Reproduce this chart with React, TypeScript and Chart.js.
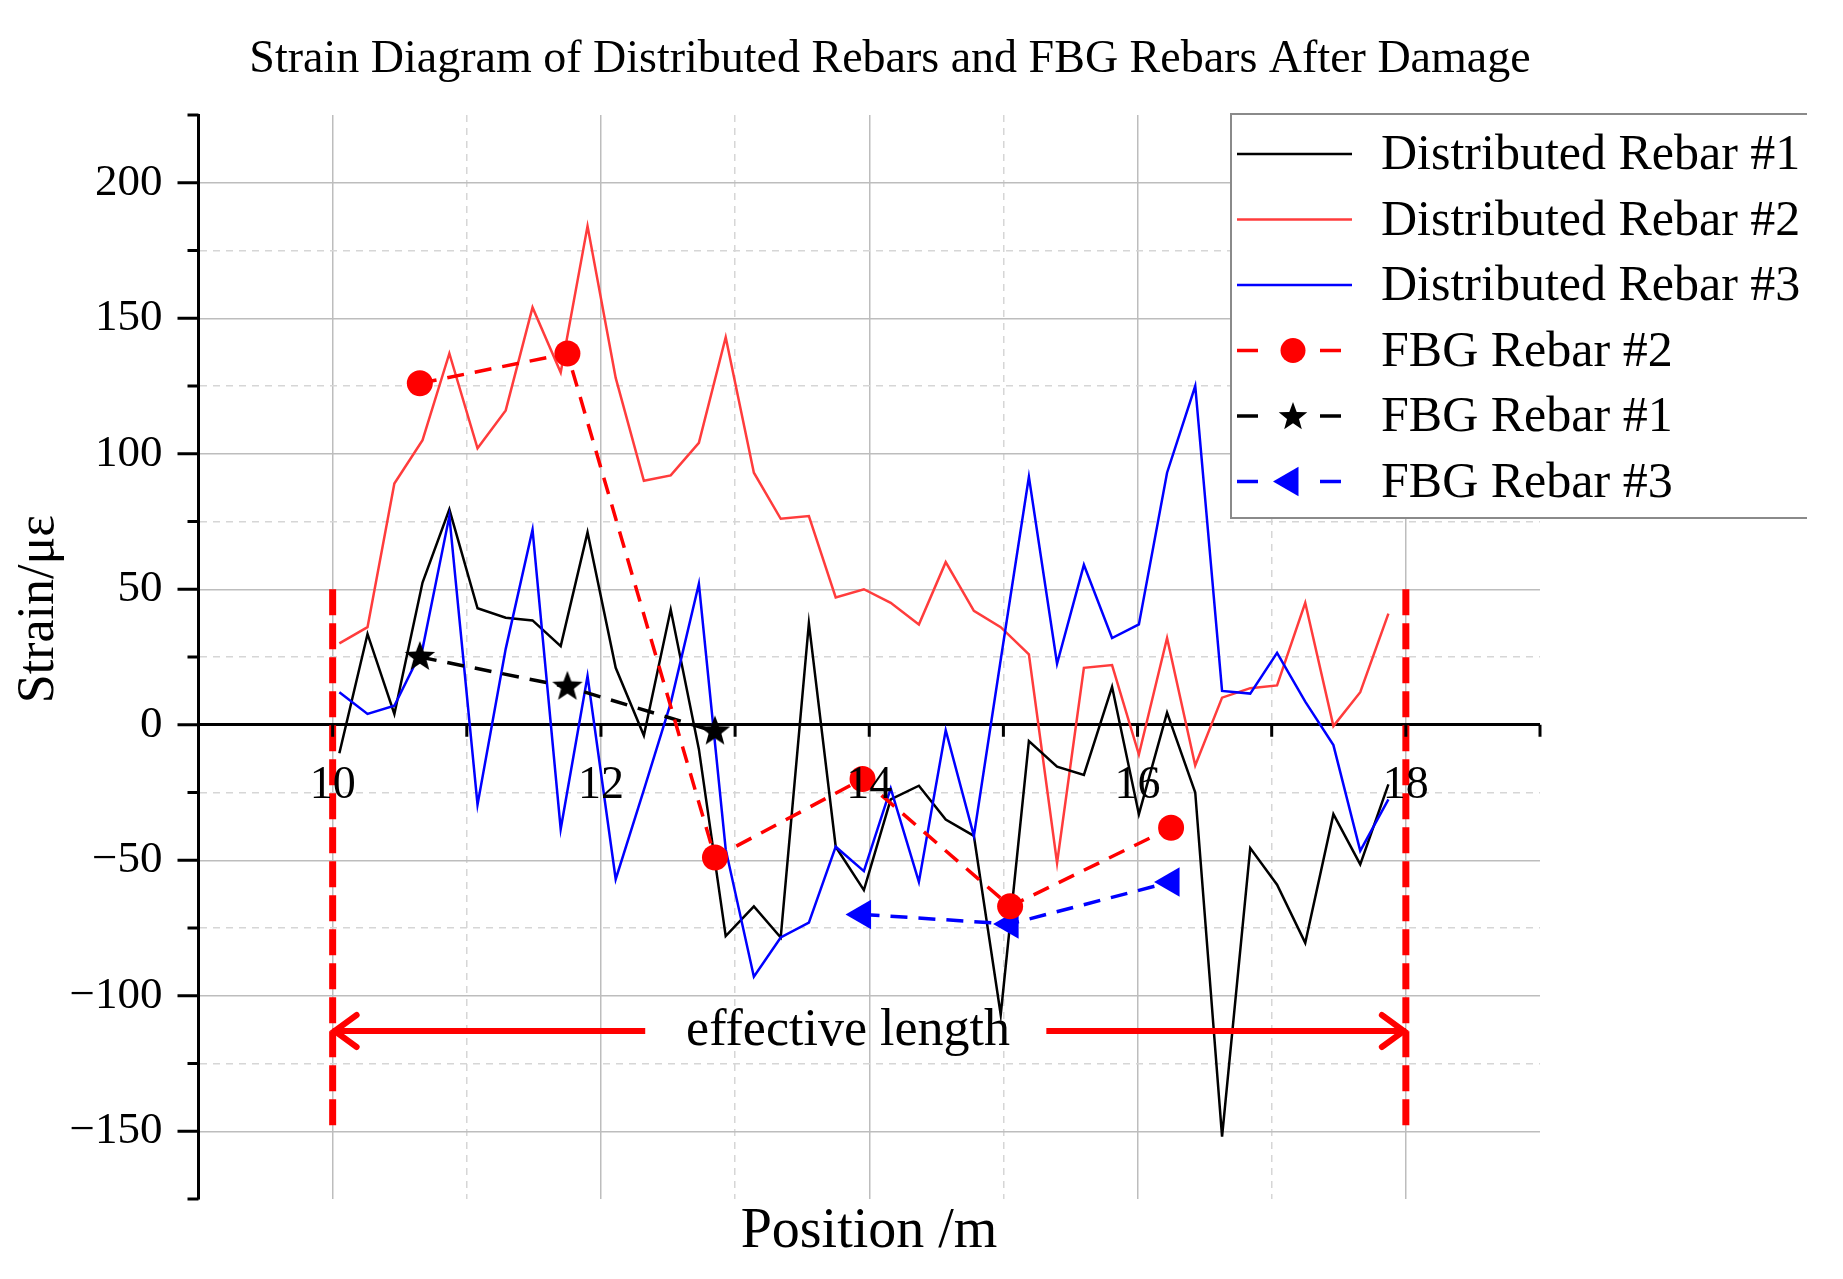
import { useEffect, useRef } from 'react';
import { Chart, registerables } from 'chart.js';

Chart.register(...registerables);

// distributed sensing positions (m)
const positions = [
  10.05, 10.26, 10.46, 10.67, 10.87, 11.08, 11.29, 11.49, 11.7, 11.9,
  12.11, 12.32, 12.52, 12.73, 12.93, 13.14, 13.34, 13.55, 13.75, 13.96,
  14.16, 14.37, 14.57, 14.78, 14.98, 15.19, 15.4, 15.6, 15.81, 16.01,
  16.22, 16.43, 16.63, 16.84, 17.04, 17.25, 17.46, 17.66, 17.87,
];

const rebar1 = [
  -10.5, 33.5, 4, 52.5, 79.5, 43, 39.5, 38.5, 29, 71,
  21, -4, 42.5, -9, -78, -67, -78.5, 37.5, -45, -61,
  -27.5, -22.5, -35, -41, -107, -6, -15.5, -18.5, 14, -33,
  4.5, -25, -152, -45.5, -59, -80.5, -33, -51.5, -22,
];

const rebar2 = [
  30, 36, 89, 105, 137, 102, 116, 154, 130, 184,
  128, 90, 92, 104, 143, 93, 76, 77, 47, 50,
  45, 37, 60, 42, 36, 26, -51, 21, 22, -11,
  32, -15, 10, 13.5, 14.5, 45, -0.5, 12, 41,
];

const rebar3 = [
  12, 4, 7, 28, 77, -29.5, 28, 72, -38.5, 18,
  -57, -24, 8, 52, -46, -93, -78.5, -73, -45, -54,
  -23.5, -58, -2, -41, 24, 91.5, 22.5, 59, 32, 37,
  93, 125, 12.5, 11.5, 26.5, 8.5, -7.5, -46.5, -27.5,
];

// FBG sensor readings
const fbg2Positions = [10.65, 11.75, 12.85, 13.95, 15.05, 16.25];
const fbg2 = [126, 137, -49, -20, -67, -38];
const fbg1Positions = [10.65, 11.75, 12.85];
const fbg1 = [25, 14, -2.5];
const fbg3Positions = [13.95, 15.05, 16.25];
const fbg3 = [-70, -73.5, -58];

// effective length annotation
const effectiveEnds = [10, 18];
const boundaryRange = [50, -150];
const arrowLevel = -113;
const arrowLeft = [10, 12.33];
const arrowRight = [15.32, 18];

const xTickLabels = [10, 12, 14, 16, 18];

const SERIF = "'Liberation Serif', 'Times New Roman', serif";
const RED_LINE = '#ff3c3c';

function drawStar(g: CanvasRenderingContext2D, cx: number, cy: number, outer: number, color: string) {
  const inner = outer * 0.42;
  g.beginPath();
  for (let i = 0; i < 10; i++) {
    const r = i % 2 === 0 ? outer : inner;
    const a = -Math.PI / 2 + (i * Math.PI) / 5;
    const px = cx + r * Math.cos(a);
    const py = cy + r * Math.sin(a);
    if (i === 0) g.moveTo(px, py);
    else g.lineTo(px, py);
  }
  g.closePath();
  g.fillStyle = color;
  g.fill();
}

function makeStar(outer: number, color: string) {
  const size = Math.ceil(outer * 2 + 4);
  const c = document.createElement('canvas');
  c.width = size;
  c.height = size;
  const g = c.getContext('2d');
  if (g) drawStar(g, size / 2, size / 2, outer, color);
  return c;
}

function drawTriangleLeft(g: CanvasRenderingContext2D, cx: number, cy: number, r: number, color: string) {
  g.beginPath();
  g.moveTo(cx - r, cy);
  g.lineTo(cx + r * 0.5, cy - r * 0.866);
  g.lineTo(cx + r * 0.5, cy + r * 0.866);
  g.closePath();
  g.fillStyle = color;
  g.fill();
}

const legendItems = [
  { label: 'Distributed Rebar #1', color: '#000000', marker: 'none' },
  { label: 'Distributed Rebar #2', color: RED_LINE, marker: 'none' },
  { label: 'Distributed Rebar #3', color: '#0000ff', marker: 'none' },
  { label: 'FBG Rebar #2', color: '#ff0000', marker: 'circle' },
  { label: 'FBG Rebar #1', color: '#000000', marker: 'star' },
  { label: 'FBG Rebar #3', color: '#0000ff', marker: 'triangle' },
];

const decorations = {
  id: 'decorations',
  afterDatasetsDraw(chart: any) {
    const { ctx, chartArea } = chart;
    const x = chart.scales.x;
    const y = chart.scales.y;
    const y0 = y.getPixelForValue(0);
    ctx.save();

    // tick marks along the zero line
    ctx.strokeStyle = '#000';
    ctx.lineWidth = 3;
    x.ticks.forEach((t: any) => {
      if (t.value < 10) return;
      const px = x.getPixelForValue(t.value);
      ctx.beginPath();
      ctx.moveTo(px, y0);
      ctx.lineTo(px, y0 + 12);
      ctx.stroke();
    });

    // y axis ticks, long at labelled values
    y.ticks.forEach((t: any) => {
      const py = y.getPixelForValue(t.value);
      const len = t.value % 50 === 0 ? 21 : 11;
      ctx.beginPath();
      ctx.moveTo(chartArea.left - len, py);
      ctx.lineTo(chartArea.left, py);
      ctx.stroke();
    });

    // x labels sitting on the zero line
    ctx.fillStyle = '#000';
    ctx.font = `46px ${SERIF}`;
    ctx.textAlign = 'center';
    ctx.textBaseline = 'middle';
    xTickLabels.forEach((v) => {
      ctx.fillText(String(v), x.getPixelForValue(v), y0 + 61);
    });

    // arrow heads
    const ay = y.getPixelForValue(arrowLevel);
    ctx.strokeStyle = '#ff0000';
    ctx.lineWidth = 6;
    ctx.lineCap = 'round';
    const lx = x.getPixelForValue(arrowLeft[0]);
    const rx = x.getPixelForValue(arrowRight[1]);
    ctx.beginPath();
    ctx.moveTo(lx + 24, ay - 16);
    ctx.lineTo(lx + 2, ay);
    ctx.lineTo(lx + 24, ay + 16);
    ctx.moveTo(rx - 24, ay - 16);
    ctx.lineTo(rx - 2, ay);
    ctx.lineTo(rx - 24, ay + 16);
    ctx.stroke();

    ctx.font = `52px ${SERIF}`;
    ctx.fillText('effective length', 848, ay);
    ctx.restore();
  },
  afterDraw(chart: any) {
    const { ctx } = chart;
    ctx.save();
    ctx.fillStyle = '#000';
    ctx.textAlign = 'center';
    ctx.textBaseline = 'middle';

    ctx.font = `46px ${SERIF}`;
    ctx.fillText('Strain Diagram of Distributed Rebars and FBG Rebars After Damage', 890, 60);

    ctx.font = `56px ${SERIF}`;
    ctx.fillText('Position /m', 869, 1232);

    ctx.save();
    ctx.translate(39, 609);
    ctx.rotate(-Math.PI / 2);
    ctx.font = `52px ${SERIF}`;
    ctx.fillText('Strain/με', 0, 0);
    ctx.restore();

    // legend box (right edge cut off like the source figure)
    const bx = 1231;
    const by = 114;
    const bw = 576;
    const bh = 404;
    ctx.fillStyle = '#fff';
    ctx.fillRect(bx, by, bw, bh);
    ctx.strokeStyle = '#8a8a8a';
    ctx.lineWidth = 2;
    ctx.beginPath();
    ctx.moveTo(bx + bw, by);
    ctx.lineTo(bx, by);
    ctx.lineTo(bx, by + bh);
    ctx.lineTo(bx + bw, by + bh);
    ctx.stroke();

    ctx.textAlign = 'left';
    ctx.font = `50px ${SERIF}`;
    legendItems.forEach((item, i) => {
      const ry = 154 + i * 65.5;
      ctx.strokeStyle = item.color;
      if (item.marker === 'none') {
        ctx.lineWidth = 2.5;
        ctx.beginPath();
        ctx.moveTo(1237, ry);
        ctx.lineTo(1352, ry);
        ctx.stroke();
      } else {
        ctx.lineWidth = 3.5;
        ctx.beginPath();
        ctx.moveTo(1237, ry);
        ctx.lineTo(1258, ry);
        ctx.moveTo(1320, ry);
        ctx.lineTo(1341, ry);
        ctx.stroke();
        if (item.marker === 'circle') {
          ctx.beginPath();
          ctx.arc(1293, ry, 12.5, 0, Math.PI * 2);
          ctx.fillStyle = item.color;
          ctx.fill();
        } else if (item.marker === 'star') {
          drawStar(ctx, 1293, ry + 1, 15, item.color);
        } else {
          drawTriangleLeft(ctx, 1290, ry, 17, item.color);
        }
      }
      ctx.fillStyle = '#000';
      ctx.fillText(item.label, 1381, ry + 2);
    });
    ctx.restore();
  },
};

export default function App() {
  const chartRef = useRef<HTMLCanvasElement>(null);
  const chartInstance = useRef<Chart | null>(null);

  useEffect(() => {
    if (!chartRef.current) return;
    if (chartInstance.current) chartInstance.current.destroy();

    const pts = (xs: number[], ys: number[]) => xs.map((v, i) => ({ x: v, y: ys[i] }));
    const starImg = makeStar(16, '#000000');

    const solid = (label: string, ys: number[], color: string, order: number) => ({
      label,
      data: pts(positions, ys),
      borderColor: color,
      backgroundColor: color,
      borderWidth: 2.5,
      pointRadius: 0,
      tension: 0,
      order,
    });

    const datasets: any[] = [
      // effective length boundaries and arrows
      ...effectiveEnds.map((e) => ({
        label: 'boundary',
        data: boundaryRange.map((v) => ({ x: e, y: v })),
        borderColor: '#ff0000',
        borderWidth: 7,
        borderDash: [26, 8],
        pointRadius: 0,
        order: 0,
      })),
      ...[arrowLeft, arrowRight].map((seg) => ({
        label: 'arrow',
        data: seg.map((v) => ({ x: v, y: arrowLevel })),
        borderColor: '#ff0000',
        borderWidth: 6,
        pointRadius: 0,
        order: 0,
      })),
      {
        label: 'FBG Rebar #2',
        data: pts(fbg2Positions, fbg2),
        borderColor: '#ff0000',
        backgroundColor: '#ff0000',
        borderWidth: 3.5,
        borderDash: [17, 11],
        pointStyle: 'circle',
        pointRadius: 13,
        pointBorderWidth: 0,
        tension: 0,
        order: 1,
      },
      {
        label: 'FBG Rebar #1',
        data: pts(fbg1Positions, fbg1),
        borderColor: '#000000',
        backgroundColor: '#000000',
        borderWidth: 3.5,
        borderDash: [17, 11],
        pointStyle: starImg,
        pointRadius: 16,
        tension: 0,
        order: 2,
      },
      {
        label: 'FBG Rebar #3',
        data: pts(fbg3Positions, fbg3),
        borderColor: '#0000ff',
        backgroundColor: '#0000ff',
        borderWidth: 3.5,
        borderDash: [17, 11],
        pointStyle: 'triangle',
        pointRotation: -90,
        pointRadius: 17,
        pointBorderWidth: 0,
        tension: 0,
        order: 3,
      },
      solid('Distributed Rebar #3', rebar3, '#0000ff', 4),
      solid('Distributed Rebar #1', rebar1, '#000000', 5),
      solid('Distributed Rebar #2', rebar2, RED_LINE, 6),
    ];

    chartInstance.current = new Chart(chartRef.current, {
      type: 'line',
      data: { datasets },
      options: {
        animation: false,
        responsive: false,
        devicePixelRatio: 1,
        events: [],
        layout: { padding: { top: 115, right: 303, bottom: 80, left: 0 } },
        plugins: {
          legend: { display: false },
          title: { display: false },
          tooltip: { enabled: false },
        },
        scales: {
          x: {
            type: 'linear',
            min: 9,
            max: 19,
            ticks: { stepSize: 1, display: false },
            grid: {
              drawTicks: false,
              lineWidth: 1.5,
              color: (c: any) => {
                const v = c.tick ? c.tick.value : 0;
                if (v <= 9 || v >= 19) return 'rgba(0,0,0,0)';
                return v % 2 === 0 ? '#bdbdbd' : '#d6d6d6';
              },
            },
            border: {
              display: false,
              dash: (c: any) => (c.tick && c.tick.value % 2 !== 0 ? [7, 6] : []),
            },
            afterFit: (s: any) => {
              s.height = 0;
            },
          },
          y: {
            type: 'linear',
            min: -175,
            max: 225,
            ticks: {
              stepSize: 25,
              autoSkip: false,
              padding: 36,
              color: '#000',
              font: { family: SERIF, size: 45 },
              callback: (v: any) => {
                const n = Number(v);
                if (n % 50 !== 0) return '';
                return n < 0 ? `\u2212${Math.abs(n)}` : String(n);
              },
            },
            grid: {
              drawTicks: false,
              lineWidth: (c: any) => (c.tick && c.tick.value === 0 ? 3 : 1.5),
              color: (c: any) => {
                const v = c.tick ? c.tick.value : 1;
                if (v === 0) return '#000000';
                if (v <= -175 || v >= 225) return 'rgba(0,0,0,0)';
                return v % 50 === 0 ? '#bdbdbd' : '#d6d6d6';
              },
            },
            border: {
              display: true,
              color: '#000',
              width: 3,
              dash: (c: any) => (c.tick && c.tick.value % 50 !== 0 ? [7, 6] : []),
            },
            afterFit: (s: any) => {
              s.width = 198.5;
            },
          },
        },
      },
      plugins: [decorations],
    });

    return () => {
      if (chartInstance.current) {
        chartInstance.current.destroy();
        chartInstance.current = null;
      }
    };
  }, []);

  return (
    <div style={{ position: 'absolute', left: 0, top: 0, width: 1843, height: 1279, background: '#fff' }}>
      <canvas ref={chartRef} width={1843} height={1279} style={{ display: 'block' }}></canvas>
    </div>
  );
}
